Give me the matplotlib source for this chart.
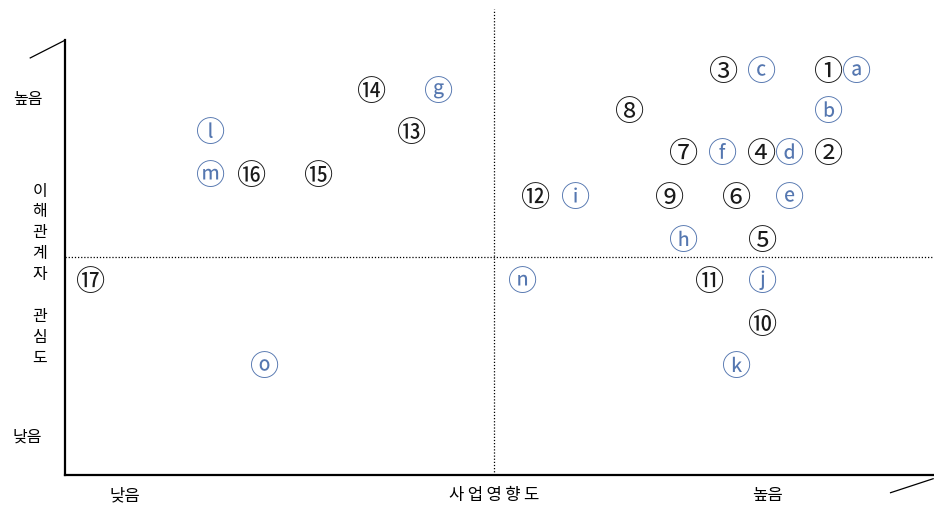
import numpy as np
import matplotlib.pyplot as plt

plt.rcParams['font.family'] = ['Noto Sans CJK KR', 'DejaVu Sans']

# stakeholders: numbered (black) and lettered (blue)
# x = 사업영향도 score, y = 이해관계자 관심도 score (0..10 scale)
num_labels = ['①', '②', '③', '④', '⑤', '⑥', '⑦', '⑧', '⑨', '⑩',
              '⑪', '⑫', '⑬', '⑭', '⑮', '⑯', '⑰']
num_x = [8.79, 8.79, 7.58, 8.02, 8.03, 7.73, 7.12, 6.50, 6.96, 8.03,
         7.42, 5.42, 3.99, 3.53, 2.92, 2.15, 0.29]
num_y = [8.68, 6.91, 8.68, 6.91, 5.04, 5.97, 6.91, 7.81, 5.97, 3.24,
         4.17, 5.97, 7.36, 8.25, 6.44, 6.44, 4.17]

let_labels = ['ⓐ', 'ⓑ', 'ⓒ', 'ⓓ', 'ⓔ', 'ⓕ', 'ⓖ', 'ⓗ', 'ⓘ', 'ⓙ',
              'ⓚ', 'ⓛ', 'ⓜ', 'ⓝ', 'ⓞ']
let_x = [9.11, 8.79, 8.02, 8.34, 8.34, 7.57, 4.30, 7.12, 5.88, 8.03,
         7.73, 1.68, 1.68, 5.27, 2.30]
let_y = [8.68, 7.81, 8.68, 6.91, 5.97, 6.91, 8.25, 5.04, 5.97, 4.17,
         2.34, 7.36, 6.44, 4.17, 2.34]

x_mid = 4.94
y_mid = 4.68
x_ticks = [0.69, x_mid, 8.08]
x_ticklabels = ['낮음', '사\u2009업\u2009영\u2009향\u2009도', '높음']
y_ticks = [8.05, 0.82]
y_ticklabels = ['높음', '낮음']
y_title = '이\n해\n관\n계\n자\n\n관\n심\n도'

fig = plt.figure(figsize=(9.34, 5.09), dpi=100)
ax = fig.add_axes([65/934, 34/509, 869/934, 466/509])
ax.set_xlim(0, 10)
ax.set_ylim(0, 10)
ax.axis('off')

# main axes (black)
ax.plot([0, 0], [0, 9.33], color='black', lw=1.6, clip_on=False)
ax.plot([0, 10], [0, 0], color='black', lw=1.6, clip_on=False)
ax.plot([-0.40, 0], [8.95, 9.33], color='black', lw=0.9, clip_on=False)
ax.plot([9.50, 9.99], [-0.38, -0.08], color='black', lw=0.9, clip_on=False)

# quadrant dividers
ax.plot([x_mid, x_mid], [0, 10], color='black', lw=0.9, ls=(0, (1, 1.5)))
ax.plot([0, 10], [y_mid, y_mid], color='black', lw=0.9, ls=(0, (1, 1.5)))

dy = -0.05
for t, x, y in zip(num_labels, num_x, num_y):
    ax.text(x, y + dy, t, fontsize=21, color='#1a1a1a', ha='center',
            va='center', fontweight='light')
for t, x, y in zip(let_labels, let_x, let_y):
    ax.text(x, y + dy, t, fontsize=21, color='#5577b0', ha='center',
            va='center', fontweight='light')

for t, x in zip(x_ticklabels, x_ticks):
    ax.text(x, -0.45, t, fontsize=12, ha='center', va='center', clip_on=False)
for t, y in zip(y_ticklabels, y_ticks):
    ax.text(-0.43, y, t, fontsize=11.5, ha='center', va='center', clip_on=False)
ax.text(-0.29, 4.3, y_title, fontsize=11.5, ha='center', va='center',
        linespacing=1.3, clip_on=False)

plt.savefig('out.png', dpi=100)
